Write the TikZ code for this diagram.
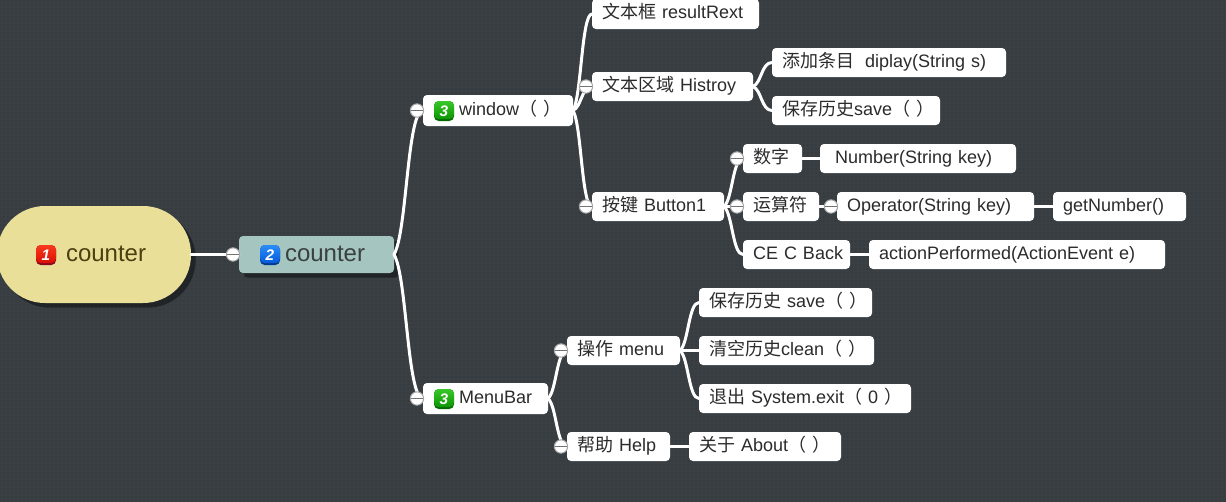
\documentclass[tikz,border=0pt]{standalone}
\usepackage{fontspec}
\setmainfont{Liberation Sans}
\newfontfamily\cjk{Noto Sans CJK SC}
\usetikzlibrary{calc,shadows,patterns.meta}
\definecolor{bgc}{HTML}{393F43}
\definecolor{dotc}{HTML}{2C3033}
\definecolor{rootc}{HTML}{E9DF98}
\definecolor{roott}{HTML}{4A3F10}
\definecolor{mainc}{HTML}{A4C5C0}
\definecolor{maint}{HTML}{3A3F3F}
\definecolor{leaft}{HTML}{2B2B2B}
\definecolor{redhi}{HTML}{F8391E}\definecolor{redlo}{HTML}{D80A00}\definecolor{reddk}{HTML}{8A0A20}
\definecolor{bluehi}{HTML}{2A8CF8}\definecolor{bluelo}{HTML}{0055D8}\definecolor{bluedk}{HTML}{003C90}
\definecolor{greenhi}{HTML}{38C828}\definecolor{greenlo}{HTML}{089000}\definecolor{greendk}{HTML}{066A00}
\newcommand\zh[1]{{\cjk #1}}
\newcommand\pad[1]{\hspace*{\dimexpr#1pt*3/4\relax}}
\tikzset{
  x=0.75pt,y=-0.75pt,
  leaf/.style={fill=white,rounded corners=3pt,inner xsep=7.5pt,inner ysep=0pt,outer sep=0pt,
    text=leaft,text height=10pt,text depth=3.2pt,align=left,font=\fontsize{13.5}{16}\selectfont},
  mainbox/.style={leaf,fill=mainc,text=maint,text height=13pt,font=\fontsize{18}{22}\selectfont,
    drop shadow={shadow xshift=3.5pt,shadow yshift=-3.5pt,opacity=.4,fill=black}},
  rootbox/.style={mainbox,fill=rootc,text=roott,rounded corners=36pt},
  conn/.style={draw=white,line width=2.25pt,line cap=round},
  toggle/.style={circle,fill=white,draw=gray!70,line width=.75pt,minimum size=10pt,inner sep=0pt,
    path picture={\draw[gray!90!black,line width=.75pt] (path picture bounding box.west) -- (path picture bounding box.east);}},
  badge/.style n args={3}{rectangle,rounded corners=3.5pt,minimum size=15pt,inner sep=0pt,fill=#3,text=white,
    font=\fontsize{11.5}{12}\bfseries\itshape\selectfont,
    path picture={\shade[top color=#1,bottom color=#2] (path picture bounding box.north west) rectangle ([yshift=1.4pt]path picture bounding box.south east);}},
  redbadge/.style={badge={redhi}{redlo}{reddk}},
  bluebadge/.style={badge={bluehi}{bluelo}{bluedk}},
  greenbadge/.style={badge={greenhi}{greenlo}{greendk}},
}
\newcommand\mmbox[7][leaf]{%
  \pgfmathsetmacro\tw{(#5-#3-20)*.75}%
  \pgfmathsetmacro\bw{(#5-#3)*.75}%
  \pgfmathsetmacro\bh{(#6-#4)*.75}%
  \node[#1,minimum width=\bw pt,minimum height=\bh pt,text width=\tw pt] (#2) at ({(#3+#5)/2},{(#4+#6)/2}) {\mbox{#7}};}
\begin{document}
\begin{tikzpicture}
\useasboundingbox (0,0) rectangle (1226,501);
\fill[bgc] (-5,-5) rectangle (1231,506);
\fill[pattern={Dots[distance=3pt,radius=.5pt]},pattern color=dotc] (-5,-5) rectangle (1231,506);
% boxes
\mmbox[rootbox]{root}{-3}{206}{191}{303}{\pad{59}counter}
\mmbox[mainbox]{main}{239}{236}{394}{273}{\pad{36}counter}
\mmbox{window}{423}{95}{573}{126}{\pad{26}window\zh{（ ）}}
\mmbox{menubar}{423}{383}{548}{414}{\pad{26}MenuBar}
\mmbox{result}{592}{-1}{759}{29}{\zh{文本框} resultRext}
\mmbox{area}{592}{72}{753}{101}{\zh{文本区域} Histroy}
\mmbox{button}{592}{192}{724}{221}{\zh{按键} Button1}
\mmbox{display}{772}{48}{1006}{77}{\zh{添加条目}\pad{5} diplay(String s)}
\mmbox{save}{772}{96}{940}{125}{\zh{保存历史}save\zh{（ ）}}
\mmbox{digit}{743}{144}{802}{173}{\zh{数字}}
\mmbox{number}{820}{144}{1016}{173}{\pad{5}Number(String key)}
\mmbox{opc}{743}{192}{819}{221}{\zh{运算符}}
\mmbox{operator}{837}{192}{1034}{221}{Operator(String key)}
\mmbox{getnum}{1053}{192}{1186}{221}{getNumber()}
\mmbox{ce}{743}{240}{850}{269}{CE C Back}
\mmbox{action}{869}{240}{1165}{269}{actionPerformed(ActionEvent e)}
\mmbox{menu}{567}{336}{680}{365}{\zh{操作} menu}
\mmbox{help}{567}{432}{670}{461}{\zh{帮助} Help}
\mmbox{savehist}{699}{288}{872}{317}{\zh{保存历史} save\zh{（ ）}}
\mmbox{clean}{699}{336}{874}{365}{\zh{清空历史}clean\zh{（ ）}}
\mmbox{exit}{699}{384}{911}{413}{\zh{退出} System.exit\zh{（} 0 \zh{）}}
\mmbox{about}{689}{432}{841}{461}{\zh{关于} About\zh{（ ）}}
% connectors
\foreach \a/\b in {root/main,main/window,main/menubar,window/result,window/area,window/button,
  area/display,area/save,button/digit,button/opc,button/ce,digit/number,opc/operator,operator/getnum,
  ce/action,menubar/menu,menubar/help,menu/savehist,menu/clean,menu/exit,help/about}{
  \draw[conn] let \p1=(\a.east),\p2=(\b.west) in (\p1) .. controls ({\x1+.45*(\x2-\x1)},{\y1+.15*(\y2-\y1)}) and ({\x1+.45*(\x2-\x1)},\y2) .. (\p2);
}
% collapse toggles
\foreach \b in {main,window,menubar,area,button,digit,opc,operator,menu,help}{
  \node[toggle] (toggle-\b) at ([xshift=-4.5pt]\b.west) {};
}
% badges
\node[redbadge] (b1) at (46,255) {1};
\node[bluebadge] (b2) at (270,255) {2};
\node[greenbadge] (b3) at (444,111) {3};
\node[greenbadge] (b4) at (444,399) {3};
\end{tikzpicture}
\end{document}
